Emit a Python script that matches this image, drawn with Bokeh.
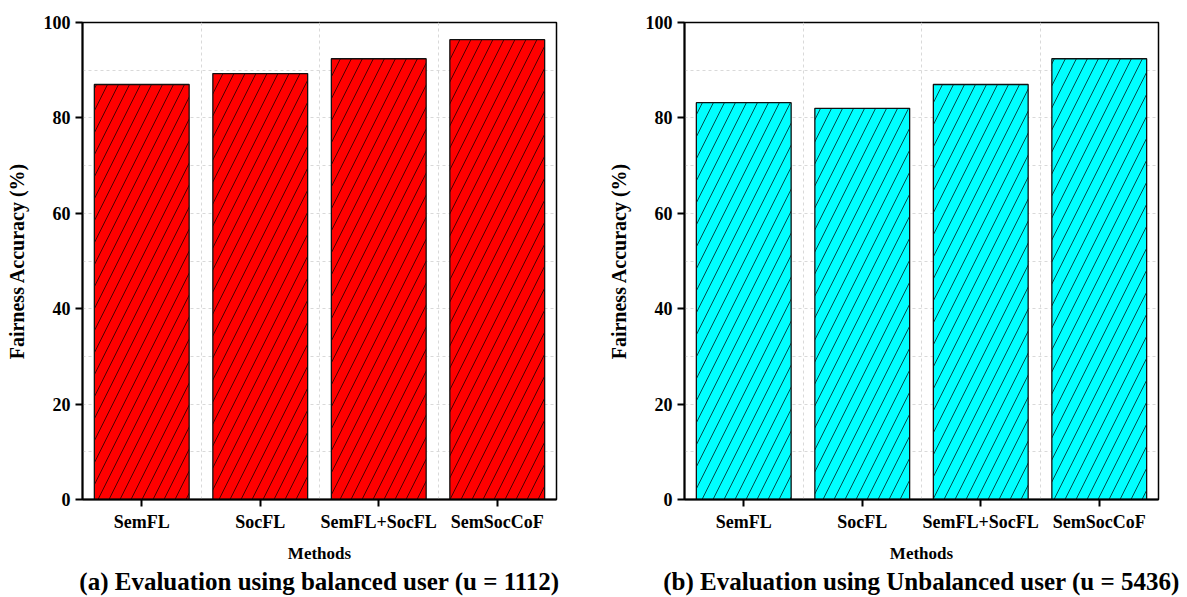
from bokeh.plotting import figure
from bokeh.layouts import row
from bokeh.models import Range1d, FixedTicker, ColumnDataSource
from bokeh.embed import file_html
from bokeh.resources import INLINE

methods = ["SemFL", "SocFL", "SemFL+SocFL", "SemSocCoF"]
balanced_acc = [87.0, 89.3, 92.4, 96.4]
unbalanced_acc = [83.2, 82.0, 87.0, 92.4]
y_ticks = [0, 20, 40, 60, 80, 100]
grid_y = [10, 20, 30, 40, 50, 60, 70, 80, 90]
titles = ["(a) Evaluation using balanced user (u = 1112)",
          "(b) Evaluation using Unbalanced user (u = 5436)"]
colors = ["#ff0000", "#00ffff"]

FONT = "Liberation Serif"


def make_panel(values, color, title, width, border_left, border_right):
    xs = list(range(1, len(methods) + 1))
    src = ColumnDataSource(dict(x=xs, top=values))
    p = figure(width=width, height=597, x_range=Range1d(0.5, len(methods) + 0.5),
               y_range=Range1d(0, 100), output_backend="svg", toolbar_location=None,
               min_border_left=border_left, min_border_right=border_right,
               min_border_top=22, min_border_bottom=98,
               title=title, title_location="below")
    p.vbar(x="x", top="top", width=0.8, bottom=0, source=src,
           fill_color=color, line_color="#111111", line_width=1.3,
           hatch_pattern="/", hatch_color="black", hatch_scale=22, hatch_weight=0.7)

    p.title.align = "center"
    p.title.text_font = FONT
    p.title.text_font_style = "bold"
    p.title.text_font_size = "25px"
    p.title.text_color = "black"
    p.title.standoff = 0

    p.outline_line_color = "black"
    p.outline_line_width = 1.5
    p.outline_line_alpha = 1

    # grids
    p.xgrid.ticker = FixedTicker(ticks=[i + 0.5 for i in range(1, len(methods))])
    p.ygrid.ticker = FixedTicker(ticks=grid_y)
    for g in (p.xgrid, p.ygrid):
        g.grid_line_color = "#d9d9d9"
        g.grid_line_dash = "3 3"
        g.grid_line_width = 1

    # axes
    p.xaxis.ticker = FixedTicker(ticks=xs)
    p.xaxis.major_label_overrides = {x: m for x, m in zip(xs, methods)}
    p.yaxis.ticker = FixedTicker(ticks=y_ticks)
    p.xaxis.axis_label = "Methods"
    p.yaxis.axis_label = "Fairness Accuracy (%)"
    for ax in (p.xaxis, p.yaxis):
        ax.axis_line_width = 2
        ax.axis_line_color = "black"
        ax.major_tick_line_width = 2
        ax.major_tick_line_color = "black"
        ax.major_tick_out = 7
        ax.major_tick_in = 0
        ax.minor_tick_line_color = None
        ax.major_label_text_font = FONT
        ax.major_label_text_font_style = "bold"
        ax.major_label_text_font_size = "18px"
        ax.major_label_text_color = "black"
        ax.axis_label_text_font = FONT
        ax.axis_label_text_font_style = "bold"
        ax.axis_label_text_color = "black"
    p.xaxis.axis_label_text_font_size = "17px"
    p.yaxis.axis_label_text_font_size = "20px"
    p.xaxis.major_label_standoff = 5
    p.xaxis.axis_label_standoff = 9
    p.yaxis.major_label_standoff = 5
    p.yaxis.axis_label_standoff = 13
    return p


p1 = make_panel(balanced_acc, colors[0], titles[0], 593, 82, 37)
p2 = make_panel(unbalanced_acc, colors[1], titles[1], 594, 91, 29)
layout = row(p1, p2)

open("out.html", "w").write(file_html(layout, INLINE))
